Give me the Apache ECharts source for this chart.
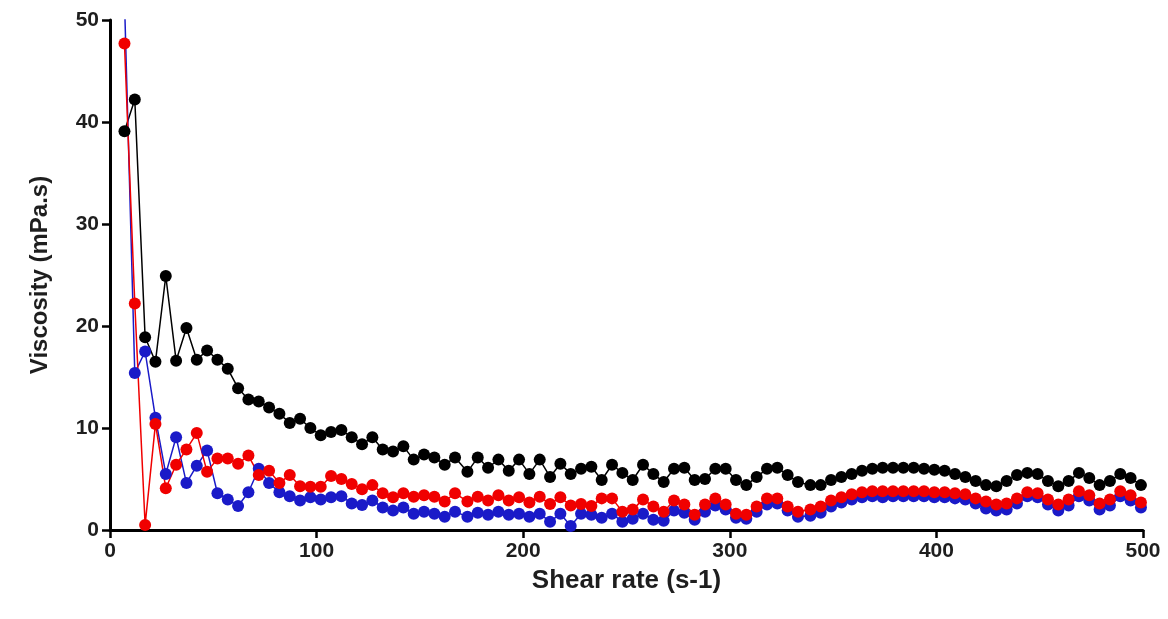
<!DOCTYPE html>
<html>
<head>
<meta charset="utf-8">
<script src="https://cdn.jsdelivr.net/npm/echarts@6/dist/echarts.min.js"></script>
<style>
html,body{margin:0;padding:0;background:#fff;}
#chart{width:1168px;height:619px;}
</style>
</head>
<body>
<div id="chart"></div>
<script>
const shearRate = [
  7,12,17,22,27,32,37,42,47,52,57,62,67,72,77,82,87,92,97,102,107,112,117,122,127,132,137,142,147,152,157,162,167,
  173,178,183,188,193,198,203,208,213,218,223,228,233,238,243,248,253,258,263,268,273,278,283,288,293,298,303,308,313,318,323,328,333,
  339,344,349,354,359,364,369,374,379,384,389,394,399,404,409,414,419,424,429,434,439,444,449,454,459,464,469,474,479,484,489,494,499
];
const blackSeries = [
  39.1,42.2,18.9,16.5,24.9,16.6,19.8,16.7,17.6,16.7,
  15.8,13.9,12.8,12.6,12.0,11.4,10.5,10.9,10.0,9.3,
  9.6,9.8,9.1,8.4,9.1,7.9,7.7,8.2,6.9,7.4,
  7.1,6.4,7.1,5.7,7.1,6.1,6.9,5.8,6.9,5.5,
  6.9,5.2,6.5,5.5,6.0,6.2,4.9,6.4,5.6,4.9,
  6.4,5.5,4.7,6.0,6.1,4.9,5.0,6.0,6.0,4.9,
  4.4,5.2,6.0,6.1,5.4,4.7,4.4,4.4,4.9,5.2,
  5.5,5.8,6.0,6.1,6.1,6.1,6.1,6.0,5.9,5.8,
  5.5,5.2,4.8,4.4,4.3,4.8,5.4,5.6,5.5,4.8,
  4.3,4.8,5.6,5.1,4.4,4.8,5.5,5.1,4.4
];
const redSeries = [
  47.7,22.2,0.5,10.4,4.1,6.4,7.9,9.5,5.7,7.0,
  7.0,6.5,7.3,5.4,5.8,4.6,5.4,4.3,4.25,4.25,
  5.3,5.0,4.5,4.0,4.4,3.6,3.2,3.6,3.25,3.4,
  3.25,2.8,3.6,2.8,3.25,2.9,3.4,2.9,3.2,2.7,
  3.25,2.55,3.2,2.4,2.55,2.35,3.1,3.1,1.8,2.0,
  3.0,2.3,1.8,2.9,2.5,1.5,2.5,3.1,2.5,1.6,
  1.5,2.3,3.1,3.1,2.3,1.8,2.0,2.3,2.9,3.2,
  3.5,3.7,3.8,3.8,3.8,3.8,3.8,3.8,3.7,3.7,
  3.6,3.5,3.1,2.8,2.5,2.6,3.1,3.7,3.6,3.0,
  2.5,3.0,3.8,3.4,2.6,3.0,3.8,3.4,2.7
];
const blueSeries = [
  52,15.4,17.5,11.0,5.5,9.1,4.6,6.3,7.8,3.6,
  3.0,2.35,3.7,6.0,4.6,3.7,3.3,2.9,3.2,3.0,
  3.2,3.3,2.6,2.45,2.9,2.2,1.9,2.2,1.6,1.8,
  1.6,1.3,1.8,1.3,1.7,1.5,1.8,1.5,1.6,1.3,
  1.6,0.8,1.6,0.4,1.6,1.5,1.2,1.6,0.8,1.1,
  1.6,1.0,0.9,1.9,1.7,1.0,1.8,2.4,2.0,1.2,
  1.1,1.8,2.5,2.6,1.9,1.3,1.4,1.7,2.3,2.7,
  3.0,3.2,3.3,3.2,3.3,3.3,3.3,3.3,3.2,3.2,
  3.1,3.0,2.6,2.1,1.9,2.0,2.6,3.3,3.2,2.5,
  1.9,2.4,3.3,2.9,2.0,2.4,3.3,2.9,2.2
];
const xTitle = 'Shear rate (s-1)';
const yTitle = 'Viscosity (mPa.s)';

function pairs(ys){ return shearRate.map((x,i)=>[x, ys[i]]); }

const chart = echarts.init(document.getElementById('chart'), null, {renderer:'canvas'});
const font = 'Liberation Sans, Arial, sans-serif';
function mk(name, data, color){
  return {
    name, type:'line', data: pairs(data), clip:true,
    symbol:'circle', symbolSize:12, showSymbol:true,
    lineStyle:{color, width:1.5}, itemStyle:{color},
    emphasis:{disabled:true}, animation:false
  };
}
chart.setOption({
  animation:false,
  grid:{left:110, top:20, right:25, bottom:89, containLabel:false},
  xAxis:{
    type:'value', min:0, max:500, interval:100,
    name:xTitle, nameLocation:'middle', nameGap:38,
    nameTextStyle:{fontFamily:font, fontWeight:'bold', fontSize:26, color:'#1e1e1e'},
    axisLine:{show:true, lineStyle:{color:'#000', width:3}},
    axisTick:{show:true, length:8, lineStyle:{color:'#000', width:2.5}},
    axisLabel:{fontFamily:font, fontWeight:'bold', fontSize:21, color:'#1e1e1e', margin:11},
    splitLine:{show:false}
  },
  yAxis:{
    type:'value', min:0, max:50, interval:10,
    name:yTitle, nameLocation:'middle', nameGap:58, nameRotate:90,
    nameTextStyle:{fontFamily:font, fontWeight:'bold', fontSize:24, color:'#1e1e1e'},
    axisLine:{show:true, lineStyle:{color:'#000', width:3}},
    axisTick:{show:true, length:8, lineStyle:{color:'#000', width:2.5}},
    axisLabel:{fontFamily:font, fontWeight:'bold', fontSize:21, color:'#1e1e1e', margin:11},
    splitLine:{show:false}
  },
  series:[
    mk('Black', blackSeries, '#000000'),
    mk('Blue', blueSeries, '#1a1ac8'),
    mk('Red', redSeries, '#f00000')
  ]
});
</script>
</body>
</html>
